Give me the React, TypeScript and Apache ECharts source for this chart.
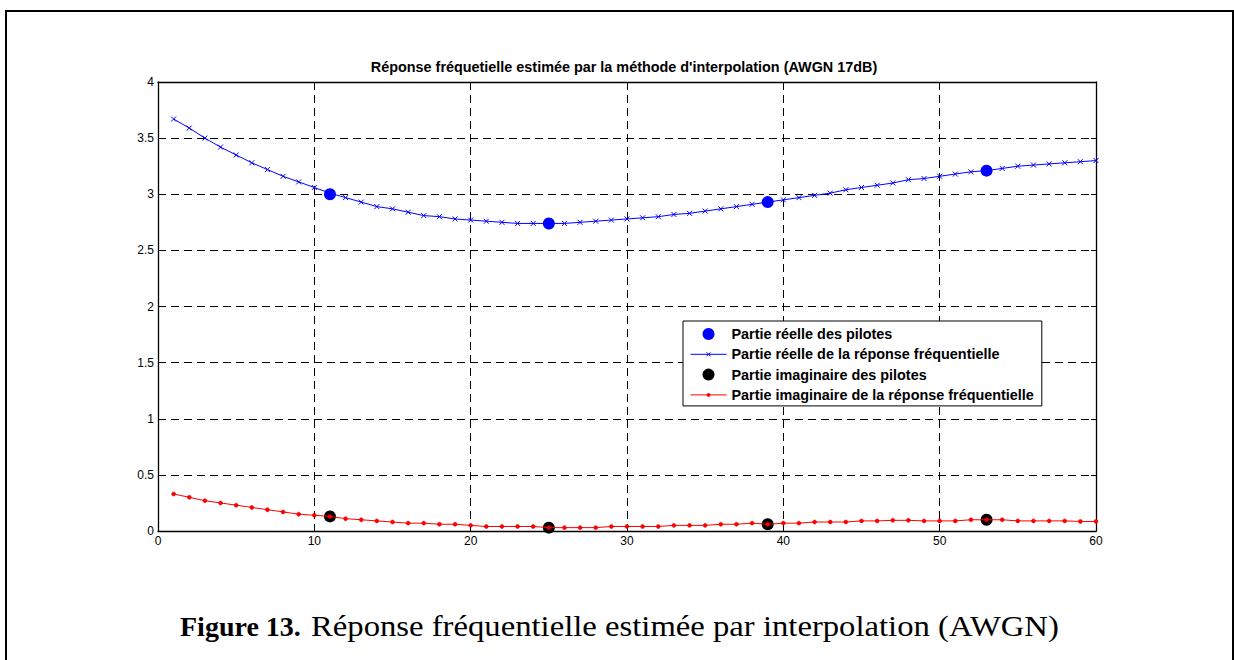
import { useEffect, useRef } from "react";
import * as echarts from "echarts";

// Sub-carrier index (1..60)
const subcarriers: number[] = Array.from({ length: 60 }, (_, i) => i + 1);

// Interpolated channel estimate: real part
const realResponse: number[] = [
  3.67, 3.59, 3.5, 3.42, 3.35, 3.28, 3.22, 3.16, 3.11, 3.06,
  3.01, 2.97, 2.93, 2.89, 2.87, 2.84, 2.81, 2.8, 2.78, 2.77,
  2.76, 2.75, 2.74, 2.74, 2.74, 2.74, 2.75, 2.76, 2.77, 2.78,
  2.79, 2.8, 2.82, 2.83, 2.85, 2.87, 2.89, 2.91, 2.93, 2.95,
  2.97, 2.99, 3.01, 3.04, 3.06, 3.08, 3.1, 3.13, 3.14, 3.16,
  3.18, 3.2, 3.21, 3.23, 3.25, 3.26, 3.27, 3.28, 3.29, 3.3,
];

// Interpolated channel estimate: imaginary part
const imagResponse: number[] = [
  0.33, 0.3, 0.27, 0.25, 0.23, 0.21, 0.19, 0.17, 0.15, 0.14,
  0.13, 0.11, 0.1, 0.09, 0.08, 0.07, 0.07, 0.06, 0.06, 0.05,
  0.04, 0.04, 0.04, 0.04, 0.03, 0.03, 0.03, 0.03, 0.04, 0.04,
  0.04, 0.04, 0.05, 0.05, 0.05, 0.06, 0.06, 0.07, 0.06, 0.07,
  0.07, 0.08, 0.08, 0.08, 0.09, 0.09, 0.095, 0.095, 0.09, 0.09,
  0.09, 0.1, 0.1, 0.1, 0.09, 0.09, 0.09, 0.09, 0.085, 0.085,
];

// Pilot sub-carriers and their estimates
const pilotPositions: number[] = [11, 25, 39, 53];
const pilotReal: number[] = [3.0, 2.74, 2.93, 3.21];
const pilotImag: number[] = [0.13, 0.03, 0.06, 0.1];

const xTicks = { min: 0, max: 60, interval: 10 };
const yTicks = { min: 0, max: 4, interval: 0.5 };

const seriesNames = [
  "Partie réelle des pilotes",
  "Partie réelle de la réponse fréquentielle",
  "Partie imaginaire des pilotes",
  "Partie imaginaire de la réponse fréquentielle",
];

const chartTitle = "Réponse fréquetielle estimée par la méthode d'interpolation (AWGN 17dB)";
const captionBold = "Figure 13.";
const captionText = "Réponse fréquentielle estimée par interpolation (AWGN)";

const SANS = "'Liberation Sans', Arial, Helvetica, sans-serif";
const SERIF = "'Liberation Serif', 'Times New Roman', serif";
const BLUE = "#0000ff";
const RED = "#ff0000";

const CROSS = "path://M0,0L10,10M10,0L0,10";

export default function App() {
  const ref = useRef<HTMLDivElement>(null);

  useEffect(() => {
    if (!ref.current) return;
    const chart = echarts.init(ref.current, undefined, { renderer: "svg" });

    const zip = (xs: number[], ys: number[]) => xs.map((x, i) => [x, ys[i]]);

    const gridLine = { show: true, lineStyle: { color: "#000", width: 1, type: [8, 5] as number[] } };
    const axisLineStyle = { show: true, onZero: false, lineStyle: { color: "#000", width: 1.3 } };
    const tickInside = { show: true, inside: true, length: 5, lineStyle: { color: "#000" } };

    chart.setOption({
      animation: false,
      backgroundColor: "#fff",
      title: {
        text: chartTitle,
        left: 624,
        textAlign: "center",
        top: 60,
        padding: 0,
        textStyle: { fontFamily: SANS, fontSize: 14.4, fontWeight: "bold", color: "#000" },
      },
      grid: { left: 158, top: 82, width: 938, height: 449, containLabel: false },
      xAxis: [
        {
          type: "value",
          position: "bottom",
          ...xTicks,
          axisLine: axisLineStyle,
          axisTick: tickInside,
          splitLine: gridLine,
          axisLabel: { margin: 4, fontFamily: SANS, fontSize: 12, color: "#000" },
        },
        {
          type: "value",
          position: "top",
          ...xTicks,
          axisLine: axisLineStyle,
          axisTick: tickInside,
          splitLine: { show: false },
          axisLabel: { show: false },
        },
      ],
      yAxis: [
        {
          type: "value",
          position: "left",
          ...yTicks,
          axisLine: axisLineStyle,
          axisTick: tickInside,
          splitLine: gridLine,
          axisLabel: { margin: 4, fontFamily: SANS, fontSize: 12, color: "#000" },
        },
        {
          type: "value",
          position: "right",
          ...yTicks,
          axisLine: axisLineStyle,
          axisTick: tickInside,
          splitLine: { show: false },
          axisLabel: { show: false },
        },
      ],
      legend: {
        orient: "vertical",
        left: 683,
        top: 321,
        backgroundColor: "#fff",
        borderColor: "#000",
        borderWidth: 1,
        padding: [5, 8, 3, 7],
        itemGap: 4.3,
        itemWidth: 36,
        itemHeight: 12,
        selectedMode: false,
        textStyle: { fontFamily: SANS, fontSize: 14.4, fontWeight: "bold", color: "#000", lineHeight: 16 },
        data: [
          { name: seriesNames[0], icon: "circle", itemStyle: { color: BLUE, borderWidth: 0, opacity: 1 } },
          {
            name: seriesNames[1],
            icon: "path://M0,6L36,6M16,4L20,8M20,4L16,8",
            itemStyle: { color: BLUE, borderColor: BLUE, borderWidth: 1, opacity: 1 },
          },
          { name: seriesNames[2], icon: "circle", itemStyle: { color: "#000", borderWidth: 0, opacity: 1 } },
          {
            name: seriesNames[3],
            icon: "path://M0,6L36,6M16.5,6a1.5,1.5 0 1,0 3,0a1.5,1.5 0 1,0 -3,0",
            itemStyle: { color: RED, borderColor: RED, borderWidth: 1, opacity: 1 },
          },
        ],
      },
      series: [
        {
          name: seriesNames[0],
          type: "scatter",
          data: zip(pilotPositions, pilotReal),
          symbol: "circle",
          symbolSize: 12,
          itemStyle: { color: BLUE, opacity: 1 },
          z: 2,
        },
        {
          name: seriesNames[1],
          type: "line",
          data: zip(subcarriers, realResponse),
          symbol: CROSS,
          symbolSize: 5,
          showAllSymbol: true,
          lineStyle: { color: BLUE, width: 1 },
          itemStyle: { color: BLUE, borderColor: BLUE, borderWidth: 1 },
          z: 3,
        },
        {
          name: seriesNames[2],
          type: "scatter",
          data: zip(pilotPositions, pilotImag),
          symbol: "circle",
          symbolSize: 12,
          itemStyle: { color: "#000", opacity: 1 },
          z: 4,
        },
        {
          name: seriesNames[3],
          type: "line",
          data: zip(subcarriers, imagResponse),
          symbol: "circle",
          symbolSize: 4,
          showAllSymbol: true,
          lineStyle: { color: RED, width: 1 },
          itemStyle: { color: RED, borderColor: "#e00000", borderWidth: 0.5 },
          z: 5,
        },
      ],
      graphic: [
        {
          type: "rect",
          shape: { x: 6, y: 11, width: 1227, height: 700 },
          style: { fill: "none", stroke: "#000", lineWidth: 2 },
          silent: true,
        },
        {
          type: "text",
          x: 180,
          y: 626,
          style: {
            text: captionBold,
            verticalAlign: "middle",
            fill: "#000",
            fontFamily: SERIF,
            fontSize: 28,
            fontWeight: "bold",
          },
          silent: true,
        },
        {
          type: "text",
          x: 311,
          y: 626,
          scaleX: 1.09,
          style: {
            text: captionText,
            verticalAlign: "middle",
            fill: "#000",
            fontFamily: SERIF,
            fontSize: 30,
          },
          silent: true,
        },
      ],
    });

    return () => chart.dispose();
  }, []);

  return (
    <div
      ref={ref}
      style={{ position: "fixed", left: 0, top: 0, width: 1234, height: 660, background: "#fff" }}
    />
  );
}
